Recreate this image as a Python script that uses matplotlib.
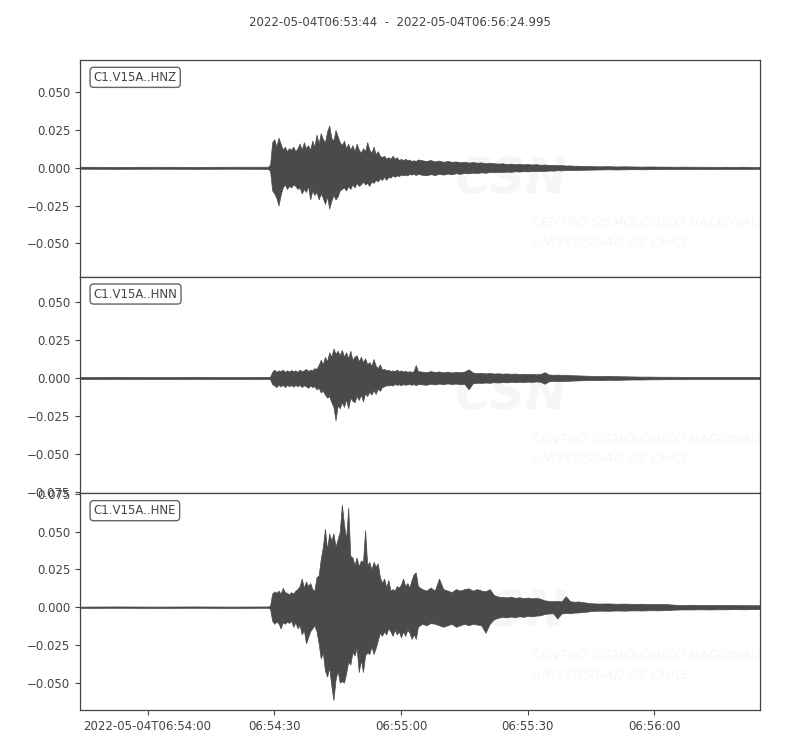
import datetime as dt
import numpy as np
import matplotlib
matplotlib.use("Agg")
import matplotlib.pyplot as plt
import matplotlib.dates as mdates
from matplotlib.ticker import MultipleLocator, FuncFormatter

# trace start / end
start = dt.datetime(2022, 5, 4, 6, 53, 44)
duration = 160.995
title = "2022-05-04T06:53:44  -  2022-05-04T06:56:24.995"
channels = ["C1.V15A..HNZ", "C1.V15A..HNN", "C1.V15A..HNE"]

# sample grid (seconds after start) for the min/max envelope
t_pre = [0, 9, 18, 27, 36, 44.5]
t_a = np.arange(45.0, 80.01, 0.5)
t_b = np.arange(81, 121)
t_c = np.arange(121, 162, 2)

# ---- HNZ ----
hnz_hi_pre = [0.0007, 0.0006, 0.0007, 0.0006, 0.0007, 0.0007]
hnz_lo_pre = [-0.0006, -0.0007, -0.0006, -0.0007, -0.0006, -0.0007]
hnz_hi_a = [0.002, 0.017, 0.019, 0.014, 0.020, 0.016, 0.012, 0.014, 0.011, 0.013,
            0.012, 0.014, 0.011, 0.013, 0.016, 0.012, 0.017, 0.013, 0.015, 0.012,
            0.018, 0.014, 0.022, 0.016, 0.023, 0.019, 0.017, 0.024, 0.028, 0.020,
            0.018, 0.025, 0.021, 0.017, 0.015, 0.018, 0.013, 0.016, 0.012, 0.015,
            0.011, 0.016, 0.012, 0.010, 0.013, 0.011, 0.017, 0.012, 0.010, 0.014,
            0.009, 0.011, 0.008, 0.007, 0.008, 0.006, 0.007, 0.006, 0.008, 0.006,
            0.007, 0.005, 0.006, 0.005, 0.006, 0.005, 0.0055, 0.0045, 0.005, 0.0045,
            0.0055]
hnz_lo_a = [-0.002, -0.015, -0.017, -0.020, -0.025, -0.018, -0.013, -0.011, -0.014, -0.012,
            -0.013, -0.011, -0.012, -0.014, -0.013, -0.017, -0.014, -0.016, -0.012, -0.021,
            -0.015, -0.018, -0.016, -0.021, -0.017, -0.020, -0.024, -0.019, -0.027, -0.022,
            -0.018, -0.021, -0.019, -0.015, -0.014, -0.013, -0.015, -0.012, -0.014, -0.011,
            -0.013, -0.010, -0.012, -0.011, -0.009, -0.011, -0.010, -0.012, -0.009, -0.010,
            -0.008, -0.009, -0.007, -0.008, -0.006, -0.008, -0.006, -0.0065, -0.005, -0.006,
            -0.005, -0.0055, -0.0045, -0.005, -0.0045, -0.005, -0.004, -0.0045, -0.004, -0.0048,
            -0.004]
hnz_hi_b = [0.005, 0.0045, 0.0052, 0.0042, 0.0048, 0.004, 0.0045, 0.004, 0.0042, 0.0037,
            0.004, 0.0035, 0.0038, 0.0034, 0.0036, 0.003, 0.0034, 0.003, 0.0028, 0.003,
            0.0026, 0.0028, 0.0024, 0.0026, 0.0023, 0.0025, 0.0022, 0.0024, 0.002, 0.0022,
            0.0019, 0.002, 0.0017, 0.0018, 0.0015, 0.0016, 0.0013, 0.0014, 0.0012, 0.0013]
hnz_lo_b = [-0.0046, -0.005, -0.0042, -0.0048, -0.004, -0.0045, -0.0038, -0.0043, -0.0036, -0.004,
            -0.0034, -0.0037, -0.0032, -0.0035, -0.003, -0.0033, -0.0028, -0.003, -0.0027, -0.0028,
            -0.0025, -0.0027, -0.0023, -0.0025, -0.0022, -0.0024, -0.0021, -0.0022, -0.002, -0.0021,
            -0.0018, -0.0019, -0.0016, -0.0017, -0.0015, -0.0016, -0.0014, -0.0015, -0.0013, -0.0013]
hnz_hi_c = [0.0011, 0.001, 0.0011, 0.0009, 0.001, 0.0009, 0.0008, 0.0009, 0.0008, 0.0008,
            0.0007, 0.0008, 0.0007, 0.0007, 0.0007, 0.0006, 0.0007, 0.0006, 0.0007, 0.0006,
            0.0006]
hnz_lo_c = [-0.0012, -0.0011, -0.001, -0.0011, -0.001, -0.0009, -0.001, -0.0009, -0.0009, -0.0008,
            -0.0008, -0.0008, -0.0008, -0.0007, -0.0008, -0.0007, -0.0007, -0.0007, -0.0007, -0.0007,
            -0.0007]

# ---- HNN ----
hnn_hi_pre = [0.0006, 0.0007, 0.0006, 0.0007, 0.0006, 0.0007]
hnn_lo_pre = [-0.0007, -0.0006, -0.0007, -0.0006, -0.0007, -0.0006]
hnn_hi_a = [0.0008, 0.004, 0.0055, 0.004, 0.005, 0.0045, 0.0055, 0.004, 0.005, 0.0042,
            0.0052, 0.0045, 0.005, 0.004, 0.0055, 0.0045, 0.005, 0.006, 0.0045, 0.0055,
            0.005, 0.0065, 0.006, 0.0085, 0.012, 0.009, 0.014, 0.011, 0.017, 0.014,
            0.0195, 0.016, 0.018, 0.015, 0.0185, 0.014, 0.017, 0.013, 0.018, 0.012,
            0.014, 0.015, 0.011, 0.014, 0.0105, 0.013, 0.009, 0.0105, 0.008, 0.0125,
            0.008, 0.0065, 0.009, 0.0055, 0.006, 0.005, 0.0055, 0.0045, 0.005, 0.0045,
            0.0055, 0.0045, 0.005, 0.0042, 0.0048, 0.004, 0.0045, 0.004, 0.0045, 0.0085,
            0.0045]
hnn_lo_a = [-0.0008, -0.004, -0.005, -0.006, -0.0045, -0.0055, -0.0045, -0.006, -0.0045, -0.0055,
            -0.0045, -0.0058, -0.0045, -0.0055, -0.0045, -0.006, -0.0048, -0.0055, -0.0065, -0.005,
            -0.006, -0.0055, -0.0075, -0.0065, -0.0095, -0.0085, -0.011, -0.013, -0.012, -0.016,
            -0.019, -0.028, -0.018, -0.020, -0.016, -0.019, -0.014, -0.020, -0.013, -0.015,
            -0.016, -0.012, -0.0145, -0.011, -0.0155, -0.010, -0.012, -0.009, -0.011, -0.008,
            -0.0105, -0.007, -0.0085, -0.006, -0.0055, -0.0048, -0.005, -0.0045, -0.005, -0.004,
            -0.0045, -0.0042, -0.0048, -0.004, -0.0045, -0.0042, -0.004, -0.0045, -0.004, -0.0048,
            -0.004]
hnn_hi_b = [0.0042, 0.0038, 0.0045, 0.004, 0.0043, 0.0037, 0.0042, 0.0036, 0.004, 0.0038,
            0.0042, 0.0057, 0.0036, 0.0032, 0.0034, 0.003, 0.0033, 0.0029, 0.0031, 0.0028,
            0.003, 0.0027, 0.0029, 0.0026, 0.0028, 0.0025, 0.0027, 0.0024, 0.0026, 0.0038,
            0.0023, 0.0021, 0.0022, 0.002, 0.0021, 0.0019, 0.0018, 0.0017, 0.0016, 0.0015]
hnn_lo_b = [-0.0042, -0.0045, -0.0038, -0.0043, -0.0037, -0.0041, -0.0036, -0.004, -0.0037, -0.0042,
            -0.0038, -0.0075, -0.0035, -0.0031, -0.0033, -0.003, -0.0032, -0.0028, -0.003, -0.0027,
            -0.0029, -0.0026, -0.0028, -0.0025, -0.0027, -0.0024, -0.0026, -0.0023, -0.0025, -0.0038,
            -0.0022, -0.002, -0.0021, -0.0019, -0.002, -0.0018, -0.0017, -0.0016, -0.0015, -0.0014]
hnn_hi_c = [0.0014, 0.0013, 0.0014, 0.0012, 0.0011, 0.001, 0.0009, 0.0009, 0.0008, 0.0008,
            0.0008, 0.0007, 0.0007, 0.0007, 0.0007, 0.0007, 0.0007, 0.0007, 0.0007, 0.0007,
            0.0007]
hnn_lo_c = [-0.0013, -0.0014, -0.0012, -0.0013, -0.0011, -0.001, -0.001, -0.0009, -0.0009, -0.0008,
            -0.0008, -0.0008, -0.0007, -0.0007, -0.0007, -0.0007, -0.0007, -0.0007, -0.0007, -0.0007,
            -0.0007]

# ---- HNE ----
hne_hi_pre = [0.0004, 0.0005, 0.0004, 0.0005, 0.0004, 0.0005]
hne_lo_pre = [-0.0005, -0.0004, -0.0005, -0.0004, -0.0005, -0.0004]
hne_hi_a = [0.001, 0.009, 0.0105, 0.0095, 0.011, 0.009, 0.0128, 0.010, 0.0095, 0.0085,
            0.010, 0.009, 0.011, 0.012, 0.014, 0.019, 0.013, 0.017, 0.014, 0.016,
            0.012, 0.011, 0.020, 0.021, 0.032, 0.040, 0.052, 0.038, 0.049, 0.044,
            0.049, 0.040, 0.045, 0.050, 0.068, 0.055, 0.045, 0.066, 0.034, 0.033,
            0.028, 0.033, 0.027, 0.031, 0.030, 0.051, 0.028, 0.030, 0.025, 0.030,
            0.027, 0.029, 0.020, 0.016, 0.019, 0.013, 0.018, 0.011, 0.012, 0.011,
            0.014, 0.013, 0.015, 0.019, 0.014, 0.016, 0.013, 0.018, 0.022, 0.023,
            0.014]
hne_lo_a = [-0.001, -0.009, -0.011, -0.0095, -0.0108, -0.0141, -0.010, -0.011, -0.0095, -0.0105,
            -0.009, -0.013, -0.010, -0.014, -0.012, -0.018, -0.015, -0.024, -0.020, -0.016,
            -0.014, -0.012, -0.016, -0.024, -0.034, -0.030, -0.042, -0.046, -0.040, -0.052,
            -0.0616, -0.048, -0.042, -0.050, -0.049, -0.050, -0.044, -0.036, -0.038, -0.030,
            -0.032, -0.027, -0.043, -0.035, -0.043, -0.032, -0.030, -0.031, -0.026, -0.031,
            -0.027, -0.022, -0.017, -0.019, -0.016, -0.018, -0.014, -0.016, -0.019, -0.015,
            -0.018, -0.016, -0.020, -0.016, -0.019, -0.015, -0.017, -0.021, -0.018, -0.021,
            -0.013]
hne_hi_b = [0.012, 0.011, 0.013, 0.011, 0.019, 0.012, 0.011, 0.010, 0.012, 0.011,
            0.012, 0.0125, 0.011, 0.012, 0.011, 0.0105, 0.012, 0.008, 0.007, 0.0068,
            0.0065, 0.007, 0.0062, 0.0066, 0.006, 0.0064, 0.0058, 0.0062, 0.0056, 0.0045,
            0.0042, 0.004, 0.0042, 0.0038, 0.0073, 0.004, 0.0036, 0.0038, 0.0034, 0.003]
hne_lo_b = [-0.011, -0.012, -0.0105, -0.011, -0.012, -0.013, -0.012, -0.011, -0.013, -0.012,
            -0.011, -0.012, -0.011, -0.0115, -0.012, -0.017, -0.011, -0.008, -0.007, -0.0065,
            -0.0068, -0.0062, -0.0066, -0.006, -0.0064, -0.0058, -0.006, -0.0056, -0.0054, -0.0045,
            -0.0042, -0.004, -0.0075, -0.0042, -0.0038, -0.004, -0.0036, -0.0035, -0.0032, -0.003]
hne_hi_c = [0.0026, 0.0024, 0.0025, 0.0023, 0.0024, 0.0022, 0.0023, 0.0021, 0.0022, 0.002,
            0.0016, 0.0015, 0.0016, 0.0015, 0.0015, 0.0014, 0.0015, 0.0014, 0.0014, 0.0013,
            0.0013]
hne_lo_c = [-0.0025, -0.0023, -0.0024, -0.0022, -0.0023, -0.0021, -0.0022, -0.002, -0.0021, -0.0019,
            -0.0016, -0.0015, -0.0015, -0.0014, -0.0015, -0.0014, -0.0014, -0.0013, -0.0014, -0.0013,
            -0.0013]

# y limits per trace (as in the figure)
ylims = [(-0.0722, 0.0715), (-0.0762, 0.0669), (-0.0682, 0.0755)]

t_sec = np.concatenate([t_pre, t_a, t_b, t_c])
highs = [np.concatenate([hnz_hi_pre, hnz_hi_a, hnz_hi_b, hnz_hi_c]),
         np.concatenate([hnn_hi_pre, hnn_hi_a, hnn_hi_b, hnn_hi_c]),
         np.concatenate([hne_hi_pre, hne_hi_a, hne_hi_b, hne_hi_c])]
lows = [np.concatenate([hnz_lo_pre, hnz_lo_a, hnz_lo_b, hnz_lo_c]),
        np.concatenate([hnn_lo_pre, hnn_lo_a, hnn_lo_b, hnn_lo_c]),
        np.concatenate([hne_lo_pre, hne_lo_a, hne_lo_b, hne_lo_c])]

times = mdates.date2num([start + dt.timedelta(seconds=float(s)) for s in t_sec])
x0 = mdates.date2num(start)
x1 = mdates.date2num(start + dt.timedelta(seconds=duration))

TXT = "#444444"
WAVE = "#4a4a4a"
WM = "#f6f6f6"

plt.rcParams["font.family"] = "DejaVu Sans"
plt.rcParams["font.size"] = 8.5

fig = plt.figure(figsize=(8, 7.5), dpi=100)
fig.subplots_adjust(left=0.1, right=0.95, top=0.92, bottom=0.0533, hspace=0)
axes = fig.subplots(3, 1, sharex=True)


def fmt_time(x, pos):
    d = mdates.num2date(x)
    if pos == 0:
        return d.strftime("%Y-%m-%dT%H:%M:%S")
    return d.strftime("%H:%M:%S")


for i, ax in enumerate(axes):
    # very faint watermark behind the trace
    ax.text(0.55, 0.45, "CSN", transform=ax.transAxes, fontsize=36, fontweight="bold",
            fontstyle="italic", color=WM, ha="left", va="center", zorder=0)
    ax.text(0.665, 0.25, "CENTRO SISMOLÓGICO NACIONAL", transform=ax.transAxes, fontsize=9.5,
            fontstyle="italic", color=WM, ha="left", va="center", zorder=0)
    ax.text(0.665, 0.16, "UNIVERSIDAD DE CHILE", transform=ax.transAxes, fontsize=9.5,
            fontstyle="italic", color=WM, ha="left", va="center", zorder=0)

    ax.fill_between(times, lows[i], highs[i], color=WAVE,
                    edgecolor=WAVE, linewidth=0.5, zorder=2)
    ax.set_xlim(x0, x1)
    ax.set_ylim(*ylims[i])
    ax.yaxis.set_major_locator(MultipleLocator(0.025))
    ax.tick_params(colors=TXT, labelcolor=TXT, labelsize=8.5)
    for sp in ax.spines.values():
        sp.set_color("#444444")
        sp.set_linewidth(0.9)
    ax.text(0.02, 0.95, channels[i], transform=ax.transAxes, ha="left", va="top",
            fontsize=8.5, color=TXT, zorder=5,
            bbox=dict(boxstyle="round", fc="white", ec="#555555", alpha=0.9))
    if i < 2:
        ax.tick_params(axis="x", bottom=False, labelbottom=False)

axes[-1].xaxis.set_major_locator(mdates.SecondLocator(bysecond=[0, 30]))
axes[-1].xaxis.set_major_formatter(FuncFormatter(fmt_time))

fig.suptitle(title, fontsize=8.5, color=TXT, y=0.978)

fig.savefig("out.png", dpi=100)
